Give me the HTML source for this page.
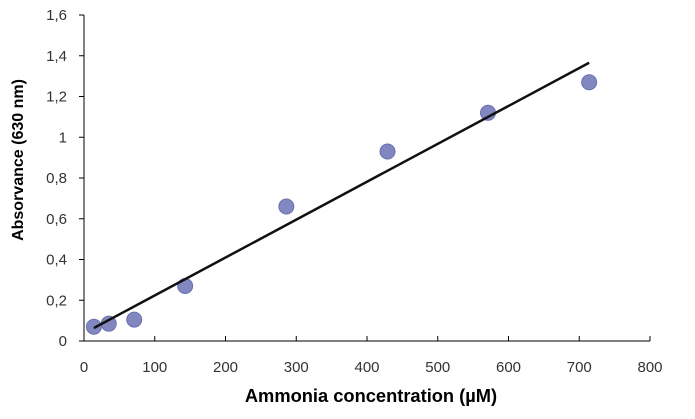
<!DOCTYPE html>
<html><head><meta charset="utf-8"><style>
body{margin:0;background:#fff}
svg text{font-family:"Liberation Sans",Arial,sans-serif;fill:#333}
</style></head><body>
<svg id="chart" width="695" height="414">
<g id="axes"></g><g id="marks"></g>
<text x="371" y="402" text-anchor="middle" font-size="18.3" font-weight="bold" style="fill:#000">Ammonia concentration (µM)</text>
<text transform="translate(23,160) rotate(-90)" text-anchor="middle" font-size="16" font-weight="bold" style="fill:#000">Absorvance (630 nm)</text>
</svg>
<script>
const xValues=[14,35,71,143,286,429,571,714];
const yValues=[0.07,0.085,0.105,0.27,0.66,0.93,1.12,1.27];
const xTicks=[0,100,200,300,400,500,600,700,800];
const yTicks=[0,0.2,0.4,0.6,0.8,1,1.2,1.4,1.6];
const yTickLabels=["0","0,2","0,4","0,6","0,8","1","1,2","1,4","1,6"];
const X0=84,X1=650,Y0=341,Y1=15;
const sx=v=>X0+(v/800)*(X1-X0);
const sy=v=>Y0-(v/1.6)*(Y0-Y1);
const NS="http://www.w3.org/2000/svg";
const axes=document.getElementById('axes'),marks=document.getElementById('marks');
function mk(tag,attrs,parent){const e=document.createElementNS(NS,tag);for(const k in attrs)e.setAttribute(k,attrs[k]);parent.appendChild(e);return e;}
let e=mk('line',{x1:X0,y1:Y1,x2:X0,y2:Y0,stroke:'#000','stroke-width':1},axes);


e=mk('line',{x1:X0,y1:Y0,x2:X1,y2:Y0,stroke:'#000','stroke-width':1},axes);


xTicks.forEach(t=>{
 mk('line',{x1:sx(t),y1:Y0,x2:sx(t),y2:Y0-5,stroke:'#000'},axes);
 const tx=mk('text',{x:sx(t),y:Y0+31,'text-anchor':'middle','font-size':15},axes);
 tx.textContent=t;
 
 
});
yTicks.forEach((t,i)=>{
 mk('line',{x1:X0-5,y1:sy(t),x2:X0,y2:sy(t),stroke:'#000'},axes);
 const tx=mk('text',{x:X0-17,y:sy(t)+5,'text-anchor':'end','font-size':15},axes);
 tx.textContent=yTickLabels[i];
 
 
});
xValues.forEach((x,i)=>{
 const c=mk('circle',{cx:sx(x),cy:sy(yValues[i]),r:7.5,fill:'#8287c0',stroke:'#6870b0','stroke-width':1},marks);
 
 
});
const n=xValues.length,mx=xValues.reduce((a,b)=>a+b)/n,my=yValues.reduce((a,b)=>a+b)/n;
let sxy=0,sxx=0;xValues.forEach((x,i)=>{sxy+=(x-mx)*(yValues[i]-my);sxx+=(x-mx)**2;});
const m=sxy/sxx,b=my-m*mx;
const xa=Math.min(...xValues),xb=Math.max(...xValues);
const tl=mk('line',{x1:sx(xa),y1:sy(m*xa+b),x2:sx(xb),y2:sy(m*xb+b),stroke:'#111','stroke-width':2.5},marks);


</script>
</body></html>
